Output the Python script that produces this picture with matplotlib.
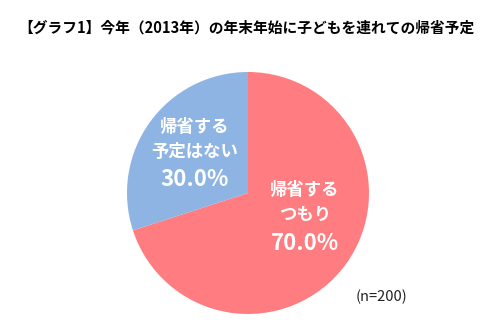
import matplotlib
matplotlib.use('Agg')
import matplotlib.pyplot as plt

plt.rcParams['font.family'] = ['Noto Sans CJK JP', 'DejaVu Sans']

# データ
labels = ['帰省する\nつもり', '帰省する\n予定はない']
values = [70.0, 30.0]
colors = ['#FF7C80', '#8EB4E3']
title = '【グラフ1】今年（2013年）の年末年始に子どもを連れての帰省予定'
note = '(n=200)'

W, H = 495, 330
fig = plt.figure(figsize=(W / 100, H / 100), dpi=100)

# 円グラフ（中心 248,193 / 半径 121 px）
cx, cy, r = 248, 193, 121
ax = fig.add_axes([(cx - r) / W, 1 - (cy + r) / H, 2 * r / W, 2 * r / H])
ax.pie(values, colors=colors, startangle=90, counterclock=False,
       wedgeprops=dict(linewidth=0))
ax.set_xlim(-1, 1)
ax.set_ylim(-1, 1)
ax.set_aspect('equal')
ax.axis('off')

# ラベル位置（ピクセル）
label_pos = [(305, 190), (195, 127)]
for lab, val, (x, y) in zip(labels, values, label_pos):
    lines = lab.split('\n')
    for i, ln in enumerate(lines):
        fig.text(x / W, 1 - (y + i * 25) / H, ln, ha='center', va='center',
                 color='white', fontsize=12.5, fontweight='bold')
    yy = y + (len(lines) - 1) * 25 + 28
    fig.text(x / W, 1 - yy / H, f'{val:.1f}%', ha='center', va='center',
             color='white', fontsize=16, fontweight='bold')

fig.text(18 / W, 1 - 27 / H, title, ha='left', va='center',
         fontsize=10.6, fontweight='bold', color='black')
fig.text(356 / W, 1 - 297 / H, note, ha='left', va='center',
         fontsize=10.5, color='#222222')

fig.savefig('out.png', dpi=100)
